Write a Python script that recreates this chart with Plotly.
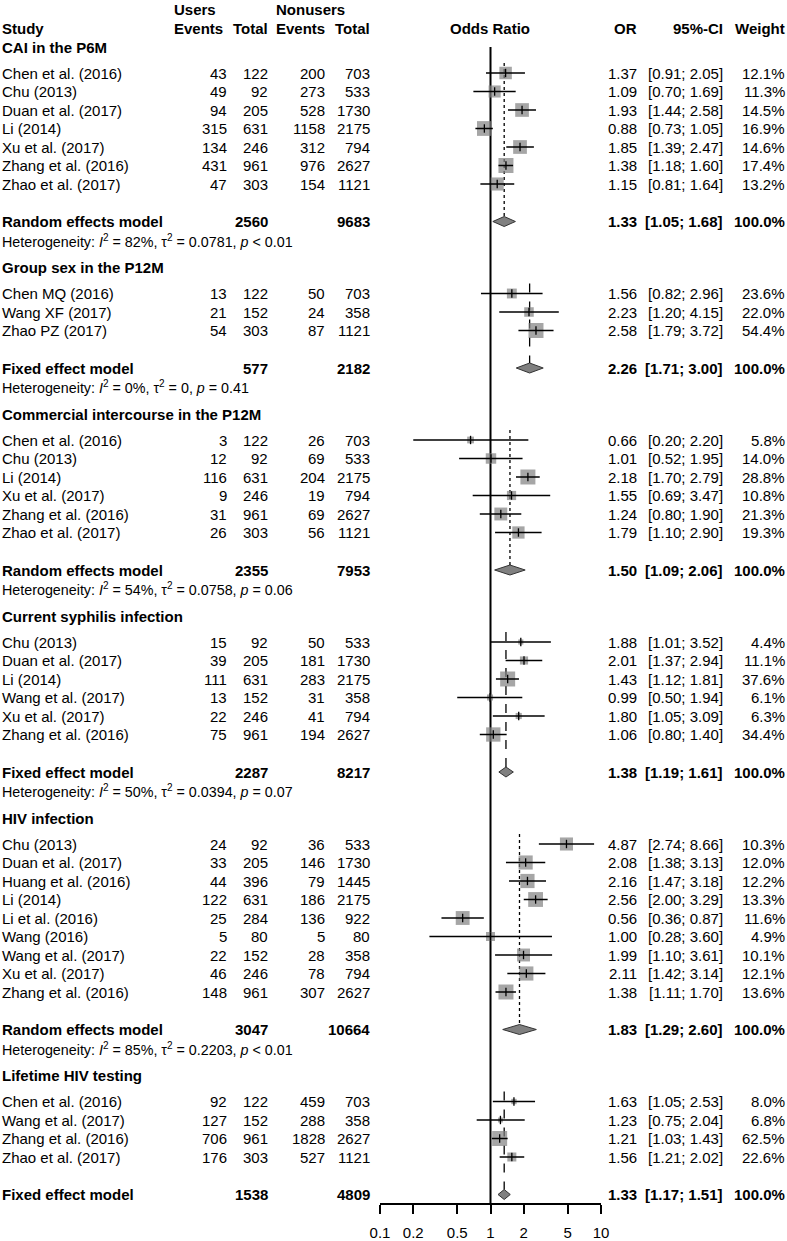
import math
import plotly.graph_objects as go

# ------------------------------------------------------------------ data
group_titles = ["CAI in the P6M", "Group sex in the P12M",
                "Commercial intercourse in the P12M", "Current syphilis infection",
                "HIV infection", "Lifetime HIV testing"]
group_models = ["Random effects model", "Fixed effect model", "Random effects model",
                "Fixed effect model", "Random effects model", "Fixed effect model"]
group_sizes = [7, 3, 6, 6, 9, 4]

studies = [
    "Chen et al. (2016)", "Chu (2013)", "Duan et al. (2017)", "Li (2014)", "Xu et al. (2017)",
    "Zhang et al. (2016)", "Zhao et al. (2017)",
    "Chen MQ (2016)", "Wang XF (2017)", "Zhao PZ (2017)",
    "Chen et al. (2016)", "Chu (2013)", "Li (2014)", "Xu et al. (2017)", "Zhang et al. (2016)",
    "Zhao et al. (2017)",
    "Chu (2013)", "Duan et al. (2017)", "Li (2014)", "Wang et al. (2017)", "Xu et al. (2017)",
    "Zhang et al. (2016)",
    "Chu (2013)", "Duan et al. (2017)", "Huang et al. (2016)", "Li (2014)", "Li et al. (2016)",
    "Wang (2016)", "Wang et al. (2017)", "Xu et al. (2017)", "Zhang et al. (2016)",
    "Chen et al. (2016)", "Wang et al. (2017)", "Zhang et al. (2016)", "Zhao et al. (2017)",
]
users_events = [43, 49, 94, 315, 134, 431, 47,
                13, 21, 54,
                3, 12, 116, 9, 31, 26,
                15, 39, 111, 13, 22, 75,
                24, 33, 44, 122, 25, 5, 22, 46, 148,
                92, 127, 706, 176]
users_total = [122, 92, 205, 631, 246, 961, 303,
               122, 152, 303,
               122, 92, 631, 246, 961, 303,
               92, 205, 631, 152, 246, 961,
               92, 205, 396, 631, 284, 80, 152, 246, 961,
               122, 152, 961, 303]
nonusers_events = [200, 273, 528, 1158, 312, 976, 154,
                   50, 24, 87,
                   26, 69, 204, 19, 69, 56,
                   50, 181, 283, 31, 41, 194,
                   36, 146, 79, 186, 136, 5, 28, 78, 307,
                   459, 288, 1828, 527]
nonusers_total = [703, 533, 1730, 2175, 794, 2627, 1121,
                  703, 358, 1121,
                  703, 533, 2175, 794, 2627, 1121,
                  533, 1730, 2175, 358, 794, 2627,
                  533, 1730, 1445, 2175, 922, 80, 358, 794, 2627,
                  703, 358, 2627, 1121]
odds_ratio = [1.37, 1.09, 1.93, 0.88, 1.85, 1.38, 1.15,
              1.56, 2.23, 2.58,
              0.66, 1.01, 2.18, 1.55, 1.24, 1.79,
              1.88, 2.01, 1.43, 0.99, 1.80, 1.06,
              4.87, 2.08, 2.16, 2.56, 0.56, 1.00, 1.99, 2.11, 1.38,
              1.63, 1.23, 1.21, 1.56]
ci_low = [0.91, 0.70, 1.44, 0.73, 1.39, 1.18, 0.81,
          0.82, 1.20, 1.79,
          0.20, 0.52, 1.70, 0.69, 0.80, 1.10,
          1.01, 1.37, 1.12, 0.50, 1.05, 0.80,
          2.74, 1.38, 1.47, 2.00, 0.36, 0.28, 1.10, 1.42, 1.11,
          1.05, 0.75, 1.03, 1.21]
ci_high = [2.05, 1.69, 2.58, 1.05, 2.47, 1.60, 1.64,
           2.96, 4.15, 3.72,
           2.20, 1.95, 2.79, 3.47, 1.90, 2.90,
           3.52, 2.94, 1.81, 1.94, 3.09, 1.40,
           8.66, 3.13, 3.18, 3.29, 0.87, 3.60, 3.61, 3.14, 1.70,
           2.53, 2.04, 1.43, 2.02]
weights = [12.1, 11.3, 14.5, 16.9, 14.6, 17.4, 13.2,
           23.6, 22.0, 54.4,
           5.8, 14.0, 28.8, 10.8, 21.3, 19.3,
           4.4, 11.1, 37.6, 6.1, 6.3, 34.4,
           10.3, 12.0, 12.2, 13.3, 11.6, 4.9, 10.1, 12.1, 13.6,
           8.0, 6.8, 62.5, 22.6]

pooled_users_total = [2560, 577, 2355, 2287, 3047, 1538]
pooled_nonusers_total = [9683, 2182, 7953, 8217, 10664, 4809]
pooled_or = [1.33, 2.26, 1.50, 1.38, 1.83, 1.33]
pooled_low = [1.05, 1.71, 1.09, 1.19, 1.29, 1.17]
pooled_high = [1.68, 3.00, 2.06, 1.61, 2.60, 1.51]
het_i2 = [82, 0, 54, 50, 85, 18]
het_tau2 = ["0.0781", "0", "0.0758", "0.0394", "0.2203", "0.0050"]
het_p = ["< 0.01", "= 0.41", "= 0.06", "= 0.07", "< 0.01", "= 0.30"]

axis_ticks = [0.1, 0.2, 0.5, 1, 2, 5, 10]
axis_ticktext = ["0.1", "0.2", "0.5", "1", "2", "5", "10"]

# ------------------------------------------------------------------ layout constants
W, H = 787, 1241
AXIS_Y = 1203            # pixel row of the x axis line
FONT = "Liberation Sans"
FS = 15
FS_HET = 14.3
SQ_GRAY = "#808080"

ROW = 18.5               # study row step
HEAD_TO_STUDY = 26
STUDY_TO_MODEL = 37.5
MODEL_TO_HET = 19
HET_TO_HEAD = 27
FIRST_HEAD = 47

COL_STUDY = 2
COL_UE, COL_UT, COL_NE, COL_NT = 227, 268, 325, 370
COL_OR, COL_CI, COL_W = 637, 723, 785
PLOT_L, PLOT_R = 380, 601
MAX_SQ = 15

annotations = []


def px(x):
    return x / W


def txt(x, y, s, anchor, bold=False, size=FS):
    if bold:
        s = "<b>" + s + "</b>"
    annotations.append(dict(x=px(x), y=y, xref="paper", yref="y", text=s,
                            showarrow=False, xanchor=anchor, yanchor="middle",
                            align=anchor, borderpad=0, borderwidth=0,
                            font=dict(family=FONT, size=size, color="black")))


# headers
txt(174, 9, "Users", "left", True)
txt(276, 9, "Nonusers", "left", True)
hdr_y = 28
txt(COL_STUDY, hdr_y, "Study", "left", True)
txt(COL_UE - 4, hdr_y, "Events", "right", True)
txt(COL_UT, hdr_y, "Total", "right", True)
txt(COL_NE, hdr_y, "Events", "right", True)
txt(COL_NT, hdr_y, "Total", "right", True)
txt((PLOT_L + PLOT_R) / 2 - 0.5, hdr_y, "Odds Ratio", "center", True)
txt(COL_OR, hdr_y, "OR", "right", True)
txt(COL_CI, hdr_y, "95%-CI", "right", True)
txt(COL_W, hdr_y, "Weight", "right", True)

traces = []
ci_x, ci_y = [], []
sq_x, sq_y, sq_s = [], [], []

y = FIRST_HEAD
idx = 0
for g, n in enumerate(group_sizes):
    txt(COL_STUDY, y, group_titles[g], "left", True)
    y += HEAD_TO_STUDY
    first_y = y
    gmax = max(weights[idx:idx + n])
    for k in range(n):
        i = idx + k
        txt(COL_STUDY, y, studies[i], "left")
        txt(COL_UE, y, str(users_events[i]), "right")
        txt(COL_UT, y, str(users_total[i]), "right")
        txt(COL_NE, y, str(nonusers_events[i]), "right")
        txt(COL_NT, y, str(nonusers_total[i]), "right")
        txt(COL_OR, y, f"{odds_ratio[i]:.2f}", "right")
        txt(COL_CI, y, f"[{ci_low[i]:.2f}; {ci_high[i]:.2f}]", "right")
        txt(COL_W, y, f"{weights[i]:.1f}%", "right")
        ci_x += [ci_low[i], ci_high[i], None]
        ci_y += [y, y, None]
        sq_x.append(odds_ratio[i])
        sq_y.append(y)
        sq_s.append(max(4, MAX_SQ * math.sqrt(weights[i] / gmax)))
        if k < n - 1:
            y += ROW
    idx += n
    y += STUDY_TO_MODEL
    model_y = y
    txt(COL_STUDY, y, group_models[g], "left", True)
    txt(COL_UT, y, str(pooled_users_total[g]), "right", True)
    txt(COL_NT, y, str(pooled_nonusers_total[g]), "right", True)
    txt(COL_OR, y, f"{pooled_or[g]:.2f}", "right", True)
    txt(COL_CI, y, f"[{pooled_low[g]:.2f}; {pooled_high[g]:.2f}]", "right", True)
    txt(COL_W, y, "100.0%", "right", True)
    # diamond
    traces.append(go.Scatter(
        x=[pooled_low[g], pooled_or[g], pooled_high[g], pooled_or[g], pooled_low[g]],
        y=[model_y, model_y - 5, model_y, model_y + 5, model_y],
        mode="lines", fill="toself", fillcolor=SQ_GRAY,
        line=dict(color="#333333", width=1), hoverinfo="skip", showlegend=False))
    # pooled estimate vertical line
    is_random = group_models[g].startswith("Random")
    traces.append(go.Scatter(
        x=[pooled_or[g], pooled_or[g]], y=[first_y - 10, model_y - 5],
        mode="lines", line=dict(color="black", width=1.3,
                                dash="dot" if is_random else "dash"),
        hoverinfo="skip", showlegend=False))
    y += MODEL_TO_HET
    het = (f"Heterogeneity: <i>I</i><sup>2</sup> = {het_i2[g]}%, "
           f"τ<sup>2</sup> = {het_tau2[g]}, <i>p</i> {het_p[g].replace('<', '&lt;')}")
    txt(COL_STUDY, y, het, "left", size=FS_HET)
    y += HET_TO_HEAD

# reference line at OR = 1
ref = go.Scatter(x=[1, 1], y=[FIRST_HEAD, AXIS_Y], mode="lines",
                 line=dict(color="black", width=2), hoverinfo="skip", showlegend=False)

squares = go.Scatter(x=sq_x, y=sq_y, mode="markers",
                     marker=dict(symbol="square", size=sq_s, color=SQ_GRAY, line=dict(width=0)),
                     hoverinfo="skip", showlegend=False)
ci_lines = go.Scatter(x=ci_x, y=ci_y, mode="lines", line=dict(color="black", width=1.5),
                      hoverinfo="skip", showlegend=False, connectgaps=False)
ticks = go.Scatter(x=sq_x, y=sq_y, mode="markers",
                   marker=dict(symbol="line-ns", size=6, line=dict(color="black", width=1.3)),
                   hoverinfo="skip", showlegend=False)

fig = go.Figure([ref] + traces + [squares, ci_lines, ticks])
fig.update_layout(
    width=W, height=H, margin=dict(l=0, r=0, t=0, b=0, pad=0, autoexpand=False),
    paper_bgcolor="white", plot_bgcolor="white",
    annotations=annotations, showlegend=False,
    xaxis=dict(type="log", range=[-1, 1], domain=[px(PLOT_L), px(PLOT_R)], automargin=False,
               showgrid=False, zeroline=False, showline=True, linecolor="black", linewidth=1.5,
               ticks="outside", ticklen=9, tickwidth=1.5, tickcolor="black",
               tickvals=axis_ticks, ticktext=axis_ticktext, ticklabelstandoff=6,
               tickfont=dict(family=FONT, size=FS, color="black"), fixedrange=True),
    yaxis=dict(range=[AXIS_Y, 0], domain=[1 - AXIS_Y / H, 1], visible=False, fixedrange=True,
               automargin=False),
)
fig.write_html("out.html", config={"displayModeBar": False},
               post_script="document.body.style.margin='0';document.body.style.padding='0';")
